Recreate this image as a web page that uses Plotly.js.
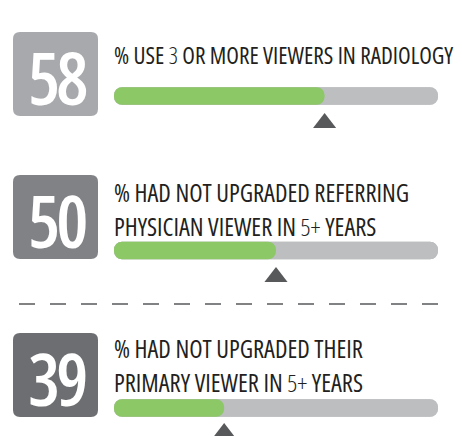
<!DOCTYPE html>
<html>
<head>
<meta charset="utf-8">
<script src="https://cdn.plot.ly/plotly-3.0.1.min.js"></script>
<style>html,body{margin:0;padding:0;background:#fff}#chart{width:462px;height:436px}</style>
</head>
<body>
<div id="chart"></div>
<script>
// ---- data ----
var percents = [58, 50, 39];                 // big numbers in the boxes
var barLevels = [65, 50, 34];                 // green fill as drawn on each bar (0-100)
var line1 = ['% USE <span style="font-weight:300">3</span> OR MORE VIEWERS IN RADIOLOGY',
             '% HAD NOT UPGRADED REFERRING',
             '% HAD NOT UPGRADED THEIR'];
var line2 = ['',
             'PHYSICIAN VIEWER IN <span style="font-weight:300">5+</span> YEARS',
             'PRIMARY VIEWER IN <span style="font-weight:300">5+</span> YEARS'];

// ---- layout constants (pixels) ----
var W = 462, H = 436;
var barY = [96, 250.5, 408];
var triY = [123, 277, 433];
var boxTop = [32, 175, 333];
var text1Y = [54.5, 192.5, 348.5];
var text2Y = [null, 226, 382];
var textSize = [23.2, 24.5, 24.5];
var boxColors = ['#a7a9ac', '#808285', '#6d6e71'];
var FONT = '"Open Sans", "Noto Sans", sans-serif';
function px(x) { return x / W; }
function py(y) { return 1 - y / H; }
function cond(s, extra) { return '<span style="font-stretch:75%;' + (extra || '') + '">' + s + '</span>'; }

var traces = [];
// grey track, rounded right end
traces.push({type: 'bar', orientation: 'h', y: barY, x: barY.map(function(){return 100;}),
  base: barY.map(function(){return 0;}), width: 17.5, marker: {color: '#bcbec0', cornerradius: 9},
  hoverinfo: 'skip', showlegend: false});
// grey track, rounded left end
traces.push({type: 'bar', orientation: 'h', y: barY, x: barY.map(function(){return -100;}),
  base: barY.map(function(){return 100;}), width: 17.5, marker: {color: '#bcbec0', cornerradius: 9},
  hoverinfo: 'skip', showlegend: false});
// green fill, drawn from the level back to 0 so only the left end is rounded
traces.push({type: 'bar', orientation: 'h', y: barY, x: barLevels.map(function(v){return -v;}),
  base: barLevels, width: 17.5, marker: {color: '#8cc866', cornerradius: 9},
  hoverinfo: 'skip', showlegend: false});
// triangle pointers
traces.push({type: 'scatter', mode: 'markers', x: barLevels, y: triY,
  marker: {symbol: 'triangle-up', size: 20, color: '#58595b', line: {width: 0}},
  hoverinfo: 'skip', showlegend: false, cliponaxis: false});

var shapes = [];
var annotations = [];
function roundRect(x0, y0, x1, y1, r) {
  var X0 = px(x0), X1 = px(x1), Y0 = py(y0), Y1 = py(y1), rx = r / W, ry = r / H;
  return 'M' + (X0 + rx) + ',' + Y0 + ' L' + (X1 - rx) + ',' + Y0 + ' Q' + X1 + ',' + Y0 + ' ' + X1 + ',' + (Y0 - ry) +
    ' L' + X1 + ',' + (Y1 + ry) + ' Q' + X1 + ',' + Y1 + ' ' + (X1 - rx) + ',' + Y1 +
    ' L' + (X0 + rx) + ',' + Y1 + ' Q' + X0 + ',' + Y1 + ' ' + X0 + ',' + (Y1 + ry) +
    ' L' + X0 + ',' + (Y0 - ry) + ' Q' + X0 + ',' + Y0 + ' ' + (X0 + rx) + ',' + Y0 + ' Z';
}
for (var i = 0; i < percents.length; i++) {
  shapes.push({type: 'path', xref: 'paper', yref: 'paper', path: roundRect(13, boxTop[i], 98, boxTop[i] + 84, 7),
    fillcolor: boxColors[i], line: {width: 0}, layer: 'below'});
  annotations.push({xref: 'paper', yref: 'paper', x: px(57), y: py(boxTop[i] + 45),
    text: cond(String(percents[i]), 'letter-spacing:-4px'),
    showarrow: false, xanchor: 'center', yanchor: 'middle',
    font: {family: FONT, size: 72, weight: 600, color: '#ffffff'}});
  annotations.push({xref: 'paper', yref: 'paper', x: px(112), y: py(text1Y[i]), text: cond(line1[i]), showarrow: false,
    xanchor: 'left', yanchor: 'middle', font: {family: FONT, size: textSize[i], weight: 500, color: '#231f20'}});
  if (line2[i]) {
    annotations.push({xref: 'paper', yref: 'paper', x: px(112), y: py(text2Y[i]), text: cond(line2[i]), showarrow: false,
      xanchor: 'left', yanchor: 'middle', font: {family: FONT, size: textSize[i], weight: 500, color: '#231f20'}});
  }
}
// dashed separator
shapes.push({type: 'line', xref: 'paper', yref: 'paper', x0: px(19), x1: px(443), y0: py(304), y1: py(304),
  line: {color: '#58595b', width: 1.5, dash: '16px,15px'}});

var layout = {
  width: W, height: H, margin: {l: 0, r: 0, t: 0, b: 0},
  paper_bgcolor: '#ffffff', plot_bgcolor: 'rgba(0,0,0,0)',
  barmode: 'overlay', showlegend: false,
  xaxis: {domain: [114 / W, 438 / W], range: [0, 100], visible: false, fixedrange: true},
  yaxis: {domain: [0, 1], range: [H, 0], visible: false, fixedrange: true},
  shapes: shapes, annotations: annotations
};
Plotly.newPlot('chart', traces, layout, {displayModeBar: false, staticPlot: true});
</script>
</body>
</html>
